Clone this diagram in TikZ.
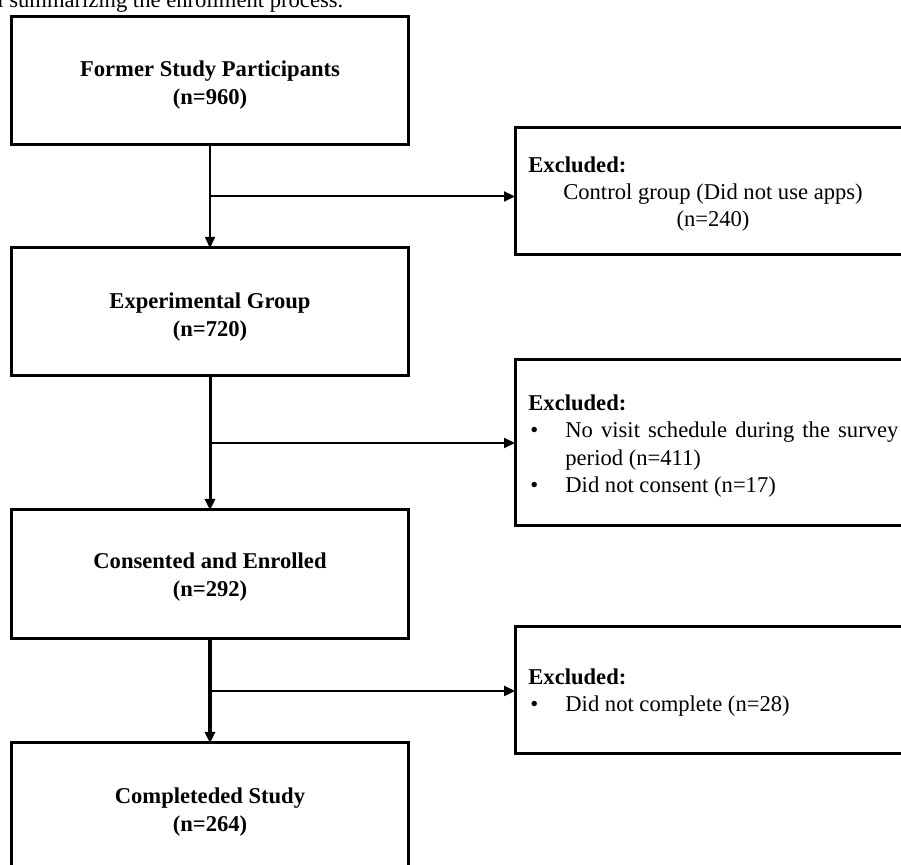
\documentclass[tikz,border=0pt]{standalone}
\usepackage{fontspec}
\setmainfont{Liberation Serif}
\usetikzlibrary{arrows.meta,calc}
\begin{document}
\begin{tikzpicture}[x=0.5pt,y=-0.5pt,
  box/.style={draw,line width=1.5pt,rectangle,minimum width=198.5pt,minimum height=64pt,inner sep=0pt,outer sep=0pt},
  btxt/.style={inner sep=0pt,align=center,font=\fontsize{11.3}{14}\selectfont\bfseries},
  exbox/.style={draw,line width=1.5pt,rectangle,minimum width=202.5pt,inner sep=0pt,outer sep=0pt},
  txt/.style={font=\fontsize{11.3}{13.6}\selectfont,inner sep=0pt,anchor=base west,align=left},
  flow/.style={-{Triangle[length=5.5pt,width=5pt]},line width=1.5pt},
  branch/.style={-{Triangle[length=5.5pt,width=5pt]},line width=1pt}]
\useasboundingbox (0,0) rectangle (901,865);
\clip (0,0) rectangle (901,865);
% caption fragment
\node[txt] (cap) at (-3,8) {l summarizing the enrollment process.};
% main boxes
\node[box] (b1) at (210,81) {};
\node[box] (b2) at (210,312) {};
\node[box,minimum height=64.5pt] (b3) at (210,574.5) {};
\node[box] (b4) at (210,807) {};
\node[btxt] (t1) at ([yshift=-2pt]b1.center) {Former Study Participants\\(n=960)};
\node[btxt] (t2) at ([yshift=-2.5pt]b2.center) {Experimental Group\\(n=720)};
\node[btxt] (t3) at ([yshift=-1.5pt]b3.center) {Consented and Enrolled\\(n=292)};
\node[btxt] (t4) at ([yshift=-2.5pt]b4.center) {Completeded Study\\(n=264)};
% exclusion boxes
\node[exbox,minimum height=63.5pt] (r1) at (717.5,191.5) {};
\node[exbox,minimum height=83pt] (r2) at (717.5,443) {};
\node[exbox,minimum height=63.5pt] (r3) at (717.5,690.5) {};
% exclusion texts
\node[txt] (e1) at (528,173) {\textbf{Excluded:}};
\node[txt,anchor=base] (e1a) at (713,200) {Control group (Did not use apps)};
\node[txt,anchor=base] (e1b) at (713,227) {(n=240)};
\node[txt] (e2) at (528,411) {\textbf{Excluded:}};
\node[txt] (e2p1) at (530,438) {\textbullet};
\node[txt] (e2a) at (565,438) {\makebox[166.5pt][s]{No visit schedule during the survey}};
\node[txt] (e2b) at (565,466) {period (n=411)};
\node[txt] (e2p2) at (530,493) {\textbullet};
\node[txt] (e2c) at (565,493) {Did not consent (n=17)};
\node[txt] (e3) at (528,685) {\textbf{Excluded:}};
\node[txt] (e3p1) at (530,712) {\textbullet};
\node[txt] (e3a) at (565,712) {Did not complete (n=28)};
% connectors
\draw[flow,line width=0.8pt] (b1) -- (b2);
\draw[flow] (b2) -- (b3);
\draw[flow,line width=1.7pt] (b3) -- (b4);
\coordinate (j1) at ($(b1.south)!0.5!(b2.north)$);
\coordinate (j2) at ($(b2.south)!0.5!(b3.north)$);
\coordinate (j3) at ($(b3.south)!0.5!(b4.north)$);
\draw[branch] (j1) -- (j1 -| r1.west);
\draw[branch] (j2) -- (j2 -| r2.west);
\draw[branch,line width=1.2pt] (j3) -- (j3 -| r3.west);
\end{tikzpicture}
\end{document}
